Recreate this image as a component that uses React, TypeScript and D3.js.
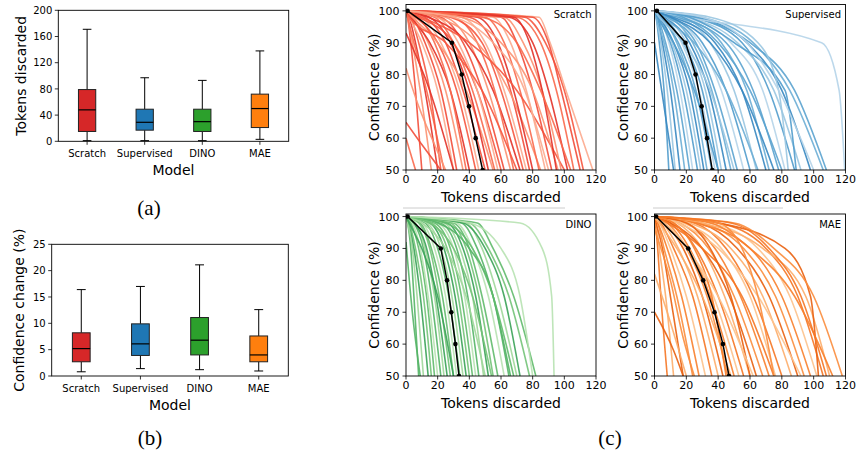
import React from 'react';
import * as d3 from 'd3';

const FONT = 'DejaVu Sans, Verdana, sans-serif';

// ---- box plot data (whisker low, q1, median, q3, whisker high) ----
const models = ['Scratch', 'Supervised', 'DINO', 'MAE'];
const boxColors = ['#d62728', '#1f77b4', '#2ca02c', '#ff7f0e'];
const tokensStats = [
  [1, 15, 48, 79, 171],
  [1, 17, 29, 49, 97],
  [1, 15, 30, 49, 93],
  [3, 21, 50, 72, 138],
];
const confStats = [
  [0.8, 2.7, 5.2, 8.2, 16.4],
  [1.4, 3.9, 6.1, 9.9, 17.0],
  [1.2, 4.0, 6.8, 11.1, 21.1],
  [0.95, 2.7, 4.0, 7.6, 12.6],
];
const tokensTicks = [0, 40, 80, 120, 160, 200];
const confTicks = [0, 5, 10, 15, 20, 25];

// ---- per-image curves: tokens discarded where confidence crosses these levels ----
const levels = [98, 90, 75, 50];
const scratchCurves = [
  [1, 3, 6, 10], [1, 4, 9, 16], [2, 6, 12, 20], [1, 5, 13, 24], [3, 8, 15, 22],
  [2, 10, 20, 30], [4, 12, 22, 32], [5, 14, 25, 36], [3, 15, 28, 40], [8, 18, 28, 38],
  [6, 20, 32, 44], [10, 22, 34, 46], [12, 25, 36, 50], [4, 20, 38, 55], [15, 28, 40, 52],
  [18, 30, 42, 56], [8, 30, 45, 60], [20, 33, 45, 58], [22, 36, 48, 62], [25, 40, 52, 66],
  [14, 38, 55, 72], [30, 45, 56, 68], [28, 48, 60, 74], [35, 50, 62, 76], [40, 55, 66, 78],
  [20, 45, 65, 85], [45, 58, 68, 80], [50, 62, 72, 84], [10, 40, 70, 100], [55, 66, 76, 88],
  [60, 70, 80, 92], [62, 74, 86, 98], [65, 80, 90, 102], [70, 85, 95, 106], [75, 88, 100, 112],
  [84, 91, 101, 118], [80, 90, 98, 110], [35, 60, 80, 96], [68, 78, 86, 95], [48, 70, 85, 104],
  [2, 25, 48, 70], [30, 55, 75, 90],
];
const supervisedCurves = [
  [1, 3, 6, 9], [1, 4, 8, 13], [2, 5, 10, 16], [1, 6, 12, 19], [2, 7, 14, 22],
  [3, 9, 16, 24], [2, 10, 18, 27], [4, 11, 20, 29], [3, 12, 22, 31], [5, 14, 24, 33],
  [4, 15, 26, 36], [6, 17, 28, 38], [5, 18, 30, 40], [8, 20, 32, 42], [6, 22, 34, 45],
  [10, 24, 36, 48], [8, 26, 38, 52], [12, 28, 42, 56], [10, 30, 45, 60], [15, 35, 50, 64],
  [12, 38, 55, 70], [18, 42, 58, 72], [15, 45, 62, 78], [20, 48, 68, 82], [25, 55, 72, 88],
  [22, 52, 75, 92], [28, 58, 80, 98], [30, 62, 85, 106], [25, 60, 88, 108], [20, 105, 116, 119.5],
  [22, 50, 82, 89], [35, 65, 78, 84], [10, 35, 55, 75], [5, 25, 45, 65], [18, 40, 60, 80],
  [30, 58, 78, 100], [2, 12, 25, 40], [3, 18, 35, 50],
];
const dinoCurves = [
  [1, 3, 5, 8], [1, 4, 7, 11], [2, 5, 9, 14], [2, 6, 11, 16], [3, 8, 13, 18],
  [4, 9, 14, 20], [5, 11, 16, 22], [6, 12, 18, 24], [5, 13, 19, 26], [8, 15, 21, 28],
  [9, 16, 23, 30], [10, 18, 25, 32], [12, 20, 27, 34], [13, 22, 29, 36], [15, 24, 31, 38],
  [16, 26, 33, 40], [18, 28, 35, 42], [20, 30, 37, 44], [22, 32, 39, 46], [24, 34, 42, 49],
  [26, 36, 44, 52], [28, 38, 46, 55], [30, 40, 48, 58], [32, 42, 52, 62], [35, 45, 55, 66],
  [38, 48, 58, 70], [36, 50, 62, 72], [40, 52, 65, 78], [45, 55, 68, 82], [72, 86, 92, 93.5],
  [20, 40, 55, 65], [10, 25, 38, 50], [2, 10, 20, 30], [15, 30, 42, 54], [25, 42, 55, 68],
  [40, 60, 72, 80],
];
const maeCurves = [
  [0.5, 2, 4, 8], [1, 3, 7, 12], [1, 5, 10, 18], [2, 6, 14, 24], [2, 8, 17, 28],
  [3, 10, 20, 32], [4, 12, 24, 36], [5, 15, 27, 40], [6, 18, 30, 43], [8, 20, 33, 46],
  [10, 22, 35, 50], [6, 21, 37, 53], [12, 26, 40, 56], [14, 30, 44, 60], [10, 30, 47, 64],
  [16, 34, 50, 68], [20, 38, 54, 72], [18, 42, 60, 76], [25, 45, 62, 80], [22, 48, 68, 86],
  [28, 52, 72, 90], [30, 56, 76, 94], [26, 60, 80, 98], [35, 65, 85, 102], [40, 70, 90, 106],
  [30, 68, 95, 110], [40, 82, 98, 103], [50, 75, 100, 118], [35, 60, 88, 112], [15, 40, 65, 92],
  [8, 30, 55, 75], [3, 14, 30, 48], [20, 35, 48, 60], [40, 55, 65, 75], [12, 25, 36, 45],
  [5, 20, 40, 62], [48, 72, 92, 108],
];
// curves that already start below 100% (x, y pairs)
const scratchLowStart = [
  [0, 65, 10, 58, 22, 50],
  [0, 82, 8, 70, 18, 58, 25, 50],
  [0, 93, 15, 75, 30, 50],
  [0, 60, 6, 50],
];
const supervisedLowStart = [[0, 90, 6, 70, 12, 50]];
const dinoLowStart = [[0, 92, 4, 70, 9, 50]];
const maeLowStart = [
  [0, 82, 8, 70, 20, 50],
  [0, 70, 12, 58, 18, 50],
  [0, 96, 10, 80, 18, 62, 25, 50],
];

// median curve (black)
const medianLevels = [100, 90, 80, 70, 60, 50];
const scratchMedianX = [1, 29, 35.2, 39.8, 44, 48.4];
const supervisedMedianX = [1.5, 19.5, 25.8, 29.6, 33, 36.3];
const dinoMedianX = [1, 22, 25.9, 28.6, 31.2, 33.5];
const maeMedianX = [1, 21.2, 30.6, 37.7, 43, 46.8];

const xTicksC = [0, 20, 40, 60, 80, 100, 120];
const yTicksC = [50, 60, 70, 80, 90, 100];

const shadeSteps = [0.58, 0.38, 0.66, 0.5, 0.55, 0.3];

type BoxProps = {
  stats: number[][]; left: number; right: number; top: number; bottom: number;
  yMax: number; ticks: number[]; yLabel: string; yLabelX: number;
};

function BoxPanel({ stats, left, right, top, bottom, yMax, ticks, yLabel, yLabelX }: BoxProps) {
  const x = d3.scaleBand().domain(models).range([left, right]);
  const y = d3.scaleLinear().domain([0, yMax]).range([bottom, top]);
  const bw = x.bandwidth() * 0.3;
  return (
    <g>
      {models.map((m, i) => {
        const [lo, q1, med, q3, hi] = stats[i];
        const cx = x(m)! + x.bandwidth() / 2;
        return (
          <g key={m}>
            <line x1={cx} x2={cx} y1={y(hi)} y2={y(q3)} stroke="#000" strokeWidth={1} />
            <line x1={cx} x2={cx} y1={y(q1)} y2={y(lo)} stroke="#000" strokeWidth={1} />
            <line x1={cx - bw / 4} x2={cx + bw / 4} y1={y(hi)} y2={y(hi)} stroke="#000" strokeWidth={1} />
            <line x1={cx - bw / 4} x2={cx + bw / 4} y1={y(lo)} y2={y(lo)} stroke="#000" strokeWidth={1} />
            <rect x={cx - bw / 2} y={y(q3)} width={bw} height={y(q1) - y(q3)}
              fill={boxColors[i]} stroke="#222" strokeWidth={1} />
            <line x1={cx - bw / 2} x2={cx + bw / 2} y1={y(med)} y2={y(med)} stroke="#000" strokeWidth={1.2} />
            <line x1={cx} x2={cx} y1={bottom} y2={bottom + 3.5} stroke="#000" strokeWidth={0.8} />
            <text x={cx} y={bottom + 15.5} textAnchor="middle" fontSize={10} fontFamily={FONT}>{m}</text>
          </g>
        );
      })}
      {ticks.map(t => (
        <g key={t}>
          <line x1={left - 3.5} x2={left} y1={y(t)} y2={y(t)} stroke="#000" strokeWidth={0.8} />
          <text x={left - 6} y={y(t) + 3.6} textAnchor="end" fontSize={10} fontFamily={FONT}>{t}</text>
        </g>
      ))}
      <rect x={left} y={top} width={right - left} height={bottom - top} fill="none" stroke="#000" strokeWidth={0.9} />
      <text x={(left + right) / 2} y={bottom + 33.5} textAnchor="middle" fontSize={14} fontFamily={FONT}>Model</text>
      <text transform={`translate(${yLabelX},${(top + bottom) / 2}) rotate(-90)`} textAnchor="middle"
        fontSize={14} fontFamily={FONT}>{yLabel}</text>
    </g>
  );
}

type CurveProps = {
  id: string; name: string; curves: number[][]; lowStart: number[][]; medianX: number[];
  interp: (t: number) => string; left: number; right: number; top: number; bottom: number; yMax: number;
};

function CurvePanel({ id, name, curves, lowStart, medianX, interp, left, right, top, bottom, yMax }: CurveProps) {
  const x = d3.scaleLinear().domain([0, 120]).range([left, right]);
  const y = d3.scaleLinear().domain([50, yMax]).range([bottom, top]);
  const line = d3.line<[number, number]>().x(d => x(d[0])).y(d => y(d[1])).curve(d3.curveMonotoneX);
  const straight = d3.line<[number, number]>().x(d => x(d[0])).y(d => y(d[1]));
  const paths: [number, number][][] = [];
  curves.forEach(c => {
    const pts: [number, number][] = [[0, 100]];
    c.forEach((v, k) => pts.push([v, levels[k]]));
    paths.push(pts);
  });
  lowStart.forEach(c => {
    const pts: [number, number][] = [];
    for (let k = 0; k < c.length; k += 2) pts.push([c[k], c[k + 1]]);
    paths.push(pts);
  });
  const med: [number, number][] = medianX.map((v, k) => [v, medianLevels[k]]);
  return (
    <g>
      <defs>
        <clipPath id={id}>
          <rect x={left} y={top} width={right - left} height={bottom - top} />
        </clipPath>
      </defs>
      <g clipPath={`url(#${id})`}>
        {paths.map((p, i) => (
          <path key={i} d={line(p) || ''} fill="none" stroke={interp(shadeSteps[i % shadeSteps.length])}
            strokeWidth={1.6} strokeOpacity={0.9} />
        ))}
        <path d={straight(med) || ''} fill="none" stroke="#000" strokeWidth={1.5} />
        {med.map((d, i) => <circle key={i} cx={x(d[0])} cy={y(d[1])} r={2.3} fill="#000" />)}
      </g>
      {xTicksC.map(t => (
        <g key={'x' + t}>
          <line x1={x(t)} x2={x(t)} y1={bottom} y2={bottom + 3.5} stroke="#000" strokeWidth={0.8} />
          <text x={x(t)} y={bottom + 12.5} textAnchor="middle" fontSize={11} fontFamily={FONT}>{t}</text>
        </g>
      ))}
      {yTicksC.map(t => (
        <g key={'y' + t}>
          <line x1={left - 3.5} x2={left} y1={y(t)} y2={y(t)} stroke="#000" strokeWidth={0.8} />
          <text x={left - 6.5} y={y(t) + 4} textAnchor="end" fontSize={11} fontFamily={FONT}>{t}</text>
        </g>
      ))}
      <rect x={left} y={top} width={right - left} height={bottom - top} fill="none" stroke="#000" strokeWidth={0.9} />
      <text x={right - 4.5} y={top + 13.8} textAnchor="end" fontSize={10} fontFamily={FONT}>{name}</text>
      <text x={(left + right) / 2} y={bottom + 32} textAnchor="middle" fontSize={14} fontFamily={FONT}>Tokens discarded</text>
      <text transform={`translate(${left - 27},${(top + bottom) / 2}) rotate(-90)`} textAnchor="middle"
        fontSize={14} fontFamily={FONT}>Confidence (%)</text>
    </g>
  );
}

export default function App() {
  const capFont = 'Liberation Serif, DejaVu Serif, serif';
  return (
    <svg width={856} height={458} style={{ position: 'absolute', left: 0, top: 0, background: '#fff' }}>
      <rect width={856} height={458} fill="#fff" />
      <BoxPanel stats={tokensStats} left={58.3} right={288.7} top={10.3} bottom={141.3} yMax={200}
        ticks={tokensTicks} yLabel="Tokens discarded" yLabelX={26} />
      <BoxPanel stats={confStats} left={51.7} right={288.3} top={244.3} bottom={376} yMax={25}
        ticks={confTicks} yLabel="Confidence change (%)" yLabelX={24} />
      <CurvePanel id="cp1" name="Scratch" curves={scratchCurves} lowStart={scratchLowStart} medianX={scratchMedianX}
        interp={d3.interpolateReds} left={406} right={596} top={4.5} bottom={170} yMax={102} />
      <CurvePanel id="cp2" name="Supervised" curves={supervisedCurves} lowStart={supervisedLowStart} medianX={supervisedMedianX}
        interp={d3.interpolateBlues} left={654.5} right={845.5} top={4.5} bottom={170} yMax={102} />
      <CurvePanel id="cp3" name="DINO" curves={dinoCurves} lowStart={dinoLowStart} medianX={dinoMedianX}
        interp={d3.interpolateGreens} left={406} right={596} top={214} bottom={376} yMax={100.8} />
      <CurvePanel id="cp4" name="MAE" curves={maeCurves} lowStart={maeLowStart} medianX={maeMedianX}
        interp={d3.interpolateOranges} left={654.5} right={845.5} top={214} bottom={376} yMax={100.8} />
      <line x1={403} x2={565} y1={208} y2={208} stroke="#cccccc" strokeWidth={1} />
      <line x1={653} x2={783} y1={208} y2={208} stroke="#cccccc" strokeWidth={1} />
      <text x={149} y={215} textAnchor="middle" fontSize={21} fontFamily={capFont}>(a)</text>
      <text x={150} y={445} textAnchor="middle" fontSize={21} fontFamily={capFont}>(b)</text>
      <text x={610} y={445} textAnchor="middle" fontSize={21} fontFamily={capFont}>(c)</text>
    </svg>
  );
}
